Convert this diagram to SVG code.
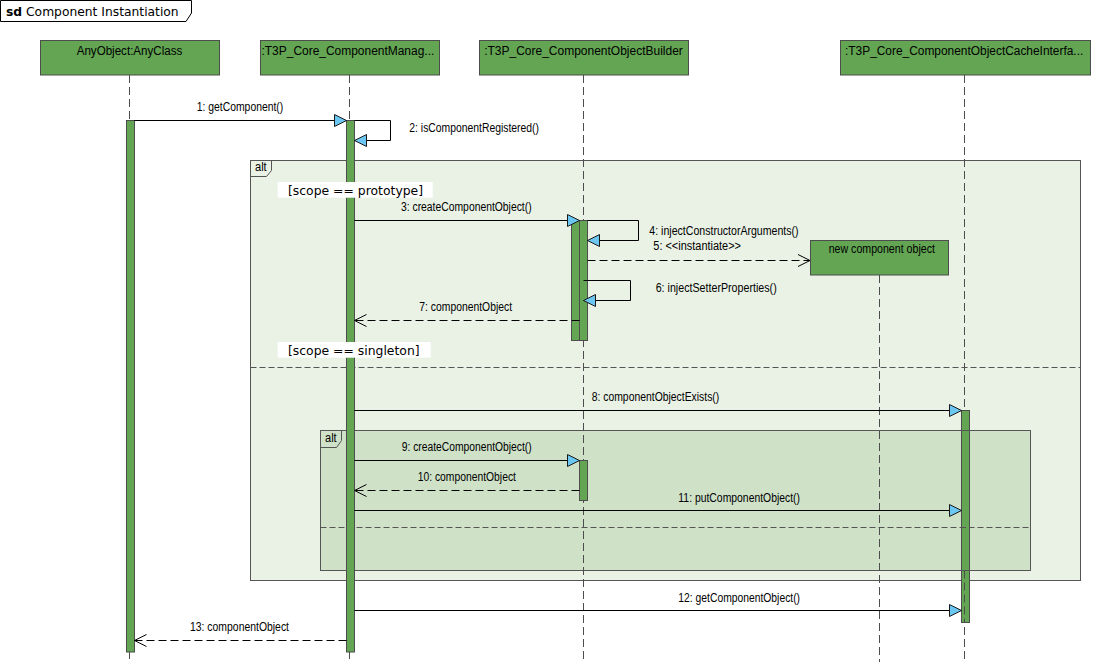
<svg xmlns="http://www.w3.org/2000/svg" width="1097" height="662" viewBox="0 0 1097 662">
  <style>
    .head { fill: #63a553; stroke: #4d4d4d; stroke-width: 1; }
    .act { fill: #63a553; stroke: #4d4d4d; stroke-width: 1; }
    .life { stroke: #4d4d4d; stroke-width: 1; stroke-dasharray: 8 4; fill: none; }
    .frame { stroke: #555; stroke-width: 1; }
    .sep { stroke: #555; stroke-width: 1; stroke-dasharray: 6 3; fill: none; }
    .msg { stroke: #000; stroke-width: 1; fill: none; }
    .ret { stroke: #000; stroke-width: 1; fill: none; stroke-dasharray: 8 4; }
    .lbl { font-family: "Liberation Sans", Arial, sans-serif; font-size: 12.5px; fill: #000; }
    .mid { text-anchor: middle; }
    .guard { font-family: "DejaVu Sans", Verdana, sans-serif; font-size: 12.4px; fill: #000; }
  </style>
  <defs>
    <marker id="sync" markerUnits="userSpaceOnUse" viewBox="-1 -1 15 14" markerWidth="15" markerHeight="14" refX="12" refY="6" orient="auto" overflow="visible">
      <path d="M0,0 L12,6 L0,12 Z" fill="#6bc6f1" stroke="#1a1a1a" stroke-width="1"/>
    </marker>
    <marker id="open" markerUnits="userSpaceOnUse" viewBox="-1 -1 15 14" markerWidth="15" markerHeight="14" refX="12" refY="6" orient="auto" overflow="visible">
      <path d="M0,0 L12,6 L0,12" fill="none" stroke="#000" stroke-width="1"/>
    </marker>
  </defs>

  <rect width="1097" height="662" fill="#fff"/>

  <!-- sequence diagram frame title -->
  <g id="frame-title">
    <path d="M0.5,0.5 H191.5 V13 L186,21.5 H0.5 Z" fill="#fff" stroke="#000" stroke-width="1"/>
    <text x="6" y="16" font-family="DejaVu Sans, Verdana, sans-serif" font-size="12.3px" fill="#000"><tspan font-weight="bold">sd</tspan> Component Instantiation</text>
  </g>

  <!-- combined fragments -->
  <g id="alt-outer">
    <rect class="frame" x="250.5" y="160.5" width="830" height="420" fill="#eaf2e6"/>
    <path class="frame" d="M250.5,160.5 H271.5 V170.5 L266.5,176.5 H250.5" fill="none"/>
    <text class="lbl" x="255" y="171" font-size="11px" textLength="11.7" lengthAdjust="spacingAndGlyphs">alt</text>
    <line class="sep" x1="250.5" y1="367.5" x2="1080.5" y2="367.5"/>
  </g>
  <g id="alt-inner">
    <rect class="frame" x="320.5" y="430.5" width="710" height="140" fill="#cfe2c8"/>
    <path class="frame" d="M320.5,430.5 H341.5 V440.5 L336.5,447.5 H320.5" fill="none"/>
    <text class="lbl" x="325" y="442" font-size="11px" textLength="11.7" lengthAdjust="spacingAndGlyphs">alt</text>
    <line class="sep" x1="320.5" y1="527.5" x2="1030.5" y2="527.5"/>
  </g>

  <!-- lifelines -->
  <g id="anyobject">
    <rect class="head" x="40.5" y="40.5" width="179" height="34.5"/>
    <text class="lbl mid" x="129.5" y="54.5" textLength="105.6" lengthAdjust="spacingAndGlyphs">AnyObject:AnyClass</text>
    <line class="life" x1="129.5" y1="75" x2="129.5" y2="662"/>
    <rect class="act" x="126.5" y="120.5" width="8" height="531.5"/>
  </g>
  <g id="component-manager">
    <rect class="head" x="260.5" y="40.5" width="179" height="34.5"/>
    <text class="lbl" x="261.5" y="54.5" textLength="172.8" lengthAdjust="spacingAndGlyphs">:T3P_Core_ComponentManag...</text>
    <line class="life" x1="349.5" y1="75" x2="349.5" y2="662"/>
    <rect class="act" x="346.5" y="120.5" width="8" height="531.5"/>
  </g>
  <g id="object-builder">
    <rect class="head" x="479.5" y="40.5" width="209" height="34.5"/>
    <text class="lbl mid" x="583.5" y="54.5" textLength="198.7" lengthAdjust="spacingAndGlyphs">:T3P_Core_ComponentObjectBuilder</text>
    <line class="life" x1="583.5" y1="75" x2="583.5" y2="662"/>
    <rect class="act" x="571.5" y="220.5" width="8" height="120"/>
    <rect class="act" x="579.5" y="220.5" width="8" height="120"/>
    <rect class="act" x="579.5" y="460.5" width="8" height="40"/>
  </g>
  <g id="cache-interface">
    <rect class="head" x="840.5" y="40.5" width="250" height="34.5"/>
    <text class="lbl" x="845" y="54.5" textLength="238.3" lengthAdjust="spacingAndGlyphs">:T3P_Core_ComponentObjectCacheInterfa...</text>
    <line class="life" x1="964.5" y1="75" x2="964.5" y2="662"/>
    <rect class="act" x="961.5" y="410.5" width="8" height="212"/>
    <line class="life" x1="964.5" y1="570.5" x2="964.5" y2="622"/>
    <!-- inner fragment edges run across this activation -->
    <path class="frame" d="M961,430.5 H970 M961,570.5 H970" fill="none"/>
    <line class="sep" x1="961" y1="527.5" x2="970" y2="527.5" stroke-dasharray="6 3" stroke-dashoffset="1"/>
  </g>
  <g id="new-component-object">
    <rect class="head" x="810.5" y="240.5" width="138" height="34.5"/>
    <text class="lbl mid" x="881.8" y="252.5" textLength="106.3" lengthAdjust="spacingAndGlyphs">new component object</text>
    <line class="life" x1="879.5" y1="275" x2="879.5" y2="662"/>
  </g>

  <!-- guards -->
  <g id="guards">
    <rect x="277.7" y="182" width="155" height="15.7" fill="#fff"/>
    <text class="guard" x="288" y="195">[scope == prototype]</text>
    <rect x="277.7" y="342" width="153" height="15.7" fill="#fff"/>
    <text class="guard" x="288" y="355">[scope == singleton]</text>
  </g>

  <!-- messages -->
  <g id="connectors">
    <line class="msg" x1="134" y1="120.5" x2="346.5" y2="120.5" marker-end="url(#sync)"/>
    <polyline class="msg" points="354.5,120.5 390.5,120.5 390.5,140.5 354.5,140.5" marker-end="url(#sync)"/>
    <line class="msg" x1="354.5" y1="220.5" x2="579.5" y2="220.5" marker-end="url(#sync)"/>
    <polyline class="msg" points="587.5,220.5 638.5,220.5 638.5,240.5 587.5,240.5" marker-end="url(#sync)"/>
    <line class="ret" x1="587.5" y1="260.5" x2="810" y2="260.5" marker-end="url(#open)"/>
    <polyline class="msg" points="583.5,280.5 630.5,280.5 630.5,300.5 583.5,300.5" marker-end="url(#sync)"/>
    <line class="ret" x1="579.5" y1="320.5" x2="354.5" y2="320.5" marker-end="url(#open)"/>
    <line class="msg" x1="354.5" y1="410.5" x2="961.5" y2="410.5" marker-end="url(#sync)"/>
    <line class="msg" x1="354.5" y1="460.5" x2="579.5" y2="460.5" marker-end="url(#sync)"/>
    <line class="ret" x1="579.5" y1="490.5" x2="354.5" y2="490.5" marker-end="url(#open)"/>
    <line class="msg" x1="354.5" y1="510.5" x2="961.5" y2="510.5" marker-end="url(#sync)"/>
    <line class="msg" x1="354.5" y1="610.5" x2="961.5" y2="610.5" marker-end="url(#sync)"/>
    <line class="ret" x1="346.5" y1="640.5" x2="134.5" y2="640.5" marker-end="url(#open)"/>

    <text class="lbl mid" x="240" y="111" textLength="86.6" lengthAdjust="spacingAndGlyphs">1: getComponent()</text>
    <text class="lbl" x="409.3" y="131.5" textLength="129.7" lengthAdjust="spacingAndGlyphs">2: isComponentRegistered()</text>
    <text class="lbl mid" x="466.3" y="210.5" textLength="130.7" lengthAdjust="spacingAndGlyphs">3: createComponentObject()</text>
    <text class="lbl" x="649.3" y="234.5" textLength="149.3" lengthAdjust="spacingAndGlyphs">4: injectConstructorArguments()</text>
    <text class="lbl" x="653.3" y="250" textLength="87.7" lengthAdjust="spacingAndGlyphs">5: &lt;&lt;instantiate&gt;&gt;</text>
    <text class="lbl" x="655.7" y="291.5" textLength="121" lengthAdjust="spacingAndGlyphs">6: injectSetterProperties()</text>
    <text class="lbl mid" x="465.7" y="310.5" textLength="92.7" lengthAdjust="spacingAndGlyphs">7: componentObject</text>
    <text class="lbl mid" x="655.5" y="400.5" textLength="127.6" lengthAdjust="spacingAndGlyphs">8: componentObjectExists()</text>
    <text class="lbl mid" x="466.7" y="450.5" textLength="130" lengthAdjust="spacingAndGlyphs">9: createComponentObject()</text>
    <text class="lbl mid" x="466.8" y="480.5" textLength="98.3" lengthAdjust="spacingAndGlyphs">10: componentObject</text>
    <text class="lbl mid" x="739.2" y="501.5" textLength="121.7" lengthAdjust="spacingAndGlyphs">11: putComponentObject()</text>
    <text class="lbl mid" x="739.2" y="601.5" textLength="121.7" lengthAdjust="spacingAndGlyphs">12: getComponentObject()</text>
    <text class="lbl mid" x="239.5" y="630.5" textLength="99" lengthAdjust="spacingAndGlyphs">13: componentObject</text>
  </g>
</svg>
